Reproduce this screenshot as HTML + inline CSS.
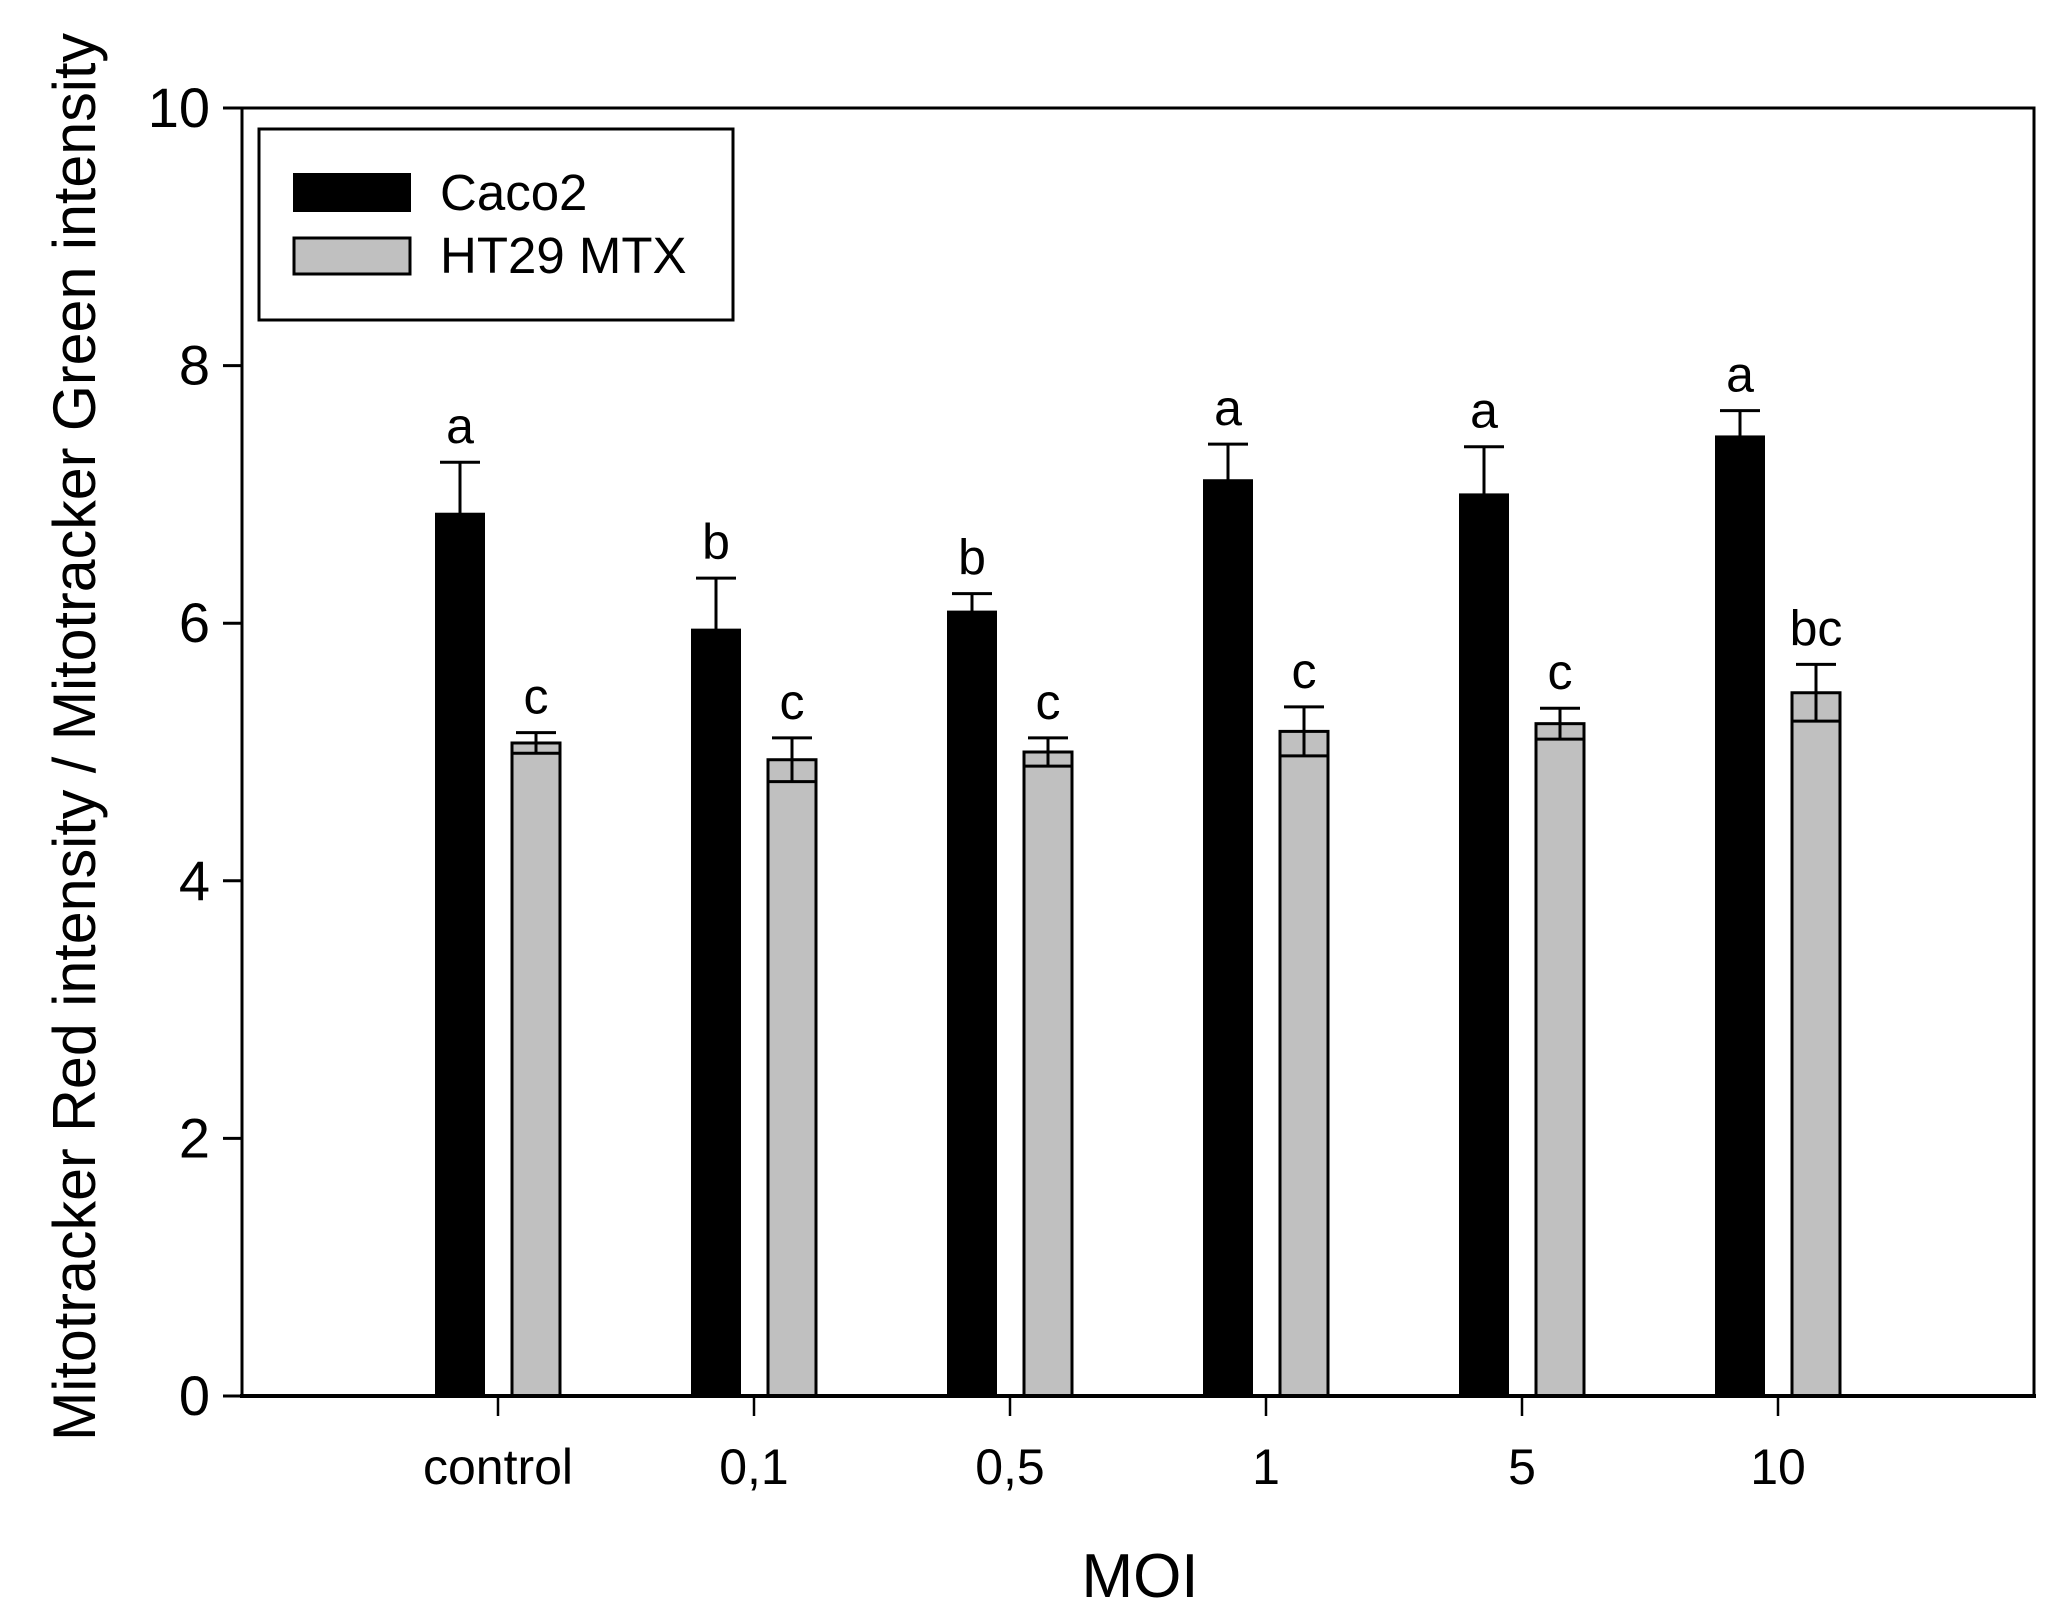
<!DOCTYPE html>
<html>
<head>
<meta charset="utf-8">
<style>
  html,body{margin:0;padding:0;background:#fff;}
  svg{display:block;}
  text{font-family:"Liberation Sans",Arial,sans-serif;fill:#000;}
</style>
</head>
<body>
<svg id="chart" width="2062" height="1618" viewBox="0 0 2062 1618" xmlns="http://www.w3.org/2000/svg"></svg>
<script>
const categories = ["control", "0,1", "0,5", "1", "5", "10"];
const caco2Values = [6.85, 5.95, 6.09, 7.11, 7.00, 7.45];
const caco2Errors = [0.40, 0.40, 0.14, 0.28, 0.37, 0.20];
const caco2Letters = ["a", "b", "b", "a", "a", "a"];
const ht29Values = [5.07, 4.94, 5.00, 5.16, 5.22, 5.46];
const ht29Errors = [0.08, 0.17, 0.11, 0.19, 0.12, 0.22];
const ht29Letters = ["c", "c", "c", "c", "c", "bc"];
const yTicks = [0, 2, 4, 6, 8, 10];

const NS = "http://www.w3.org/2000/svg";
const svg = document.getElementById("chart");
const PL = 242, PR = 2034, PT = 108, PB = 1396;
const yMax = 10;
const band = (PR - PL) / (categories.length + 1);
function yScale(v){ return PB - (v / yMax) * (PB - PT); }
function xScale(i){ return PL + (i + 1) * band; }
const barW = 48, barOff = 38;

function mk(tag, attrs, parent){
  const e = document.createElementNS(NS, tag);
  for (const k in attrs) e.setAttribute(k, attrs[k]);
  (parent || svg).appendChild(e);
  return e;
}

const frame = mk("rect", {x:PL, y:PT, width:PR-PL, height:PB-PT, fill:"none", stroke:"#000", "stroke-width":3});



yTicks.forEach(t => {
  const y = yScale(t);
  const l = mk("line", {x1:PL-19, x2:PL, y1:y, y2:y, stroke:"#000", "stroke-width":3});
  
  
  const tx = mk("text", {x:210, y:y+19, "text-anchor":"end", "font-size":56});
  tx.textContent = t;
  
  
});

categories.forEach((c, i) => {
  const cx = xScale(i);
  const tk = mk("line", {x1:cx, x2:cx, y1:PB, y2:PB+20, stroke:"#000", "stroke-width":2.5});
  
  
  const tl = mk("text", {x:cx, y:1484, "text-anchor":"middle", "font-size":50});
  tl.textContent = c;
  
  

  const bx = cx - barOff;
  const yTop = yScale(caco2Values[i]);
  const yErr = yScale(caco2Values[i] + caco2Errors[i]);
  const eb = mk("line", {x1:bx, x2:bx, y1:yTop, y2:yErr, stroke:"#000", "stroke-width":3});
  
  
  const ec = mk("line", {x1:bx-20, x2:bx+20, y1:yErr, y2:yErr, stroke:"#000", "stroke-width":3});
  
  
  const b = mk("rect", {x:bx-barW/2, y:yTop, width:barW, height:PB-yTop, fill:"#000", stroke:"#000", "stroke-width":2});
  
  
  const lt = mk("text", {x:bx, y:yErr-19, "text-anchor":"middle", "font-size":50});
  lt.textContent = caco2Letters[i];
  
  

  const gx = cx + barOff;
  const gTop = yScale(ht29Values[i]);
  const gErrT = yScale(ht29Values[i] + ht29Errors[i]);
  const gErrB = yScale(ht29Values[i] - ht29Errors[i]);
  const g = mk("rect", {x:gx-barW/2, y:gTop, width:barW, height:PB-gTop, fill:"#c0c0c0", stroke:"#000", "stroke-width":3});
  
  
  const ge = mk("line", {x1:gx, x2:gx, y1:gErrB, y2:gErrT, stroke:"#000", "stroke-width":3});
  
  
  const gc = mk("line", {x1:gx-20, x2:gx+20, y1:gErrT, y2:gErrT, stroke:"#000", "stroke-width":3});
  
  
  const gcb = mk("line", {x1:gx-barW/2, x2:gx+barW/2, y1:gErrB, y2:gErrB, stroke:"#000", "stroke-width":3});
  
  
  const gl = mk("text", {x:gx, y:gErrT-19, "text-anchor":"middle", "font-size":50});
  gl.textContent = ht29Letters[i];
  
  
});

const ax = mk("line", {x1:PL-2, x2:PR+2, y1:PB, y2:PB, stroke:"#000", "stroke-width":4});


</script>
<script>
(function(){
  const NS = "http://www.w3.org/2000/svg";
  const svg = document.getElementById("chart");
  function mk(tag, attrs){
    const e = document.createElementNS(NS, tag);
    for (const k in attrs) e.setAttribute(k, attrs[k]);
    svg.appendChild(e);
    return e;
  }
  const lg = mk("rect", {x:259, y:129, width:474, height:191, fill:"#fff", stroke:"#000", "stroke-width":3});
  
  
  const s1 = mk("rect", {x:294, y:174, width:116, height:37, fill:"#000", stroke:"#000", "stroke-width":2});
  
  
  const t1 = mk("text", {x:440, y:210, "font-size":51});
  t1.textContent = "Caco2";
  
  
  const s2 = mk("rect", {x:294, y:238, width:116, height:36, fill:"#c0c0c0", stroke:"#000", "stroke-width":3});
  
  
  const t2 = mk("text", {x:440, y:273, "font-size":51});
  t2.textContent = "HT29 MTX";
  
  

  const xt = mk("text", {x:1140, y:1597, "text-anchor":"middle", "font-size":62});
  xt.textContent = "MOI";
  
  
  const yt = mk("text", {x:0, y:0, "text-anchor":"middle", "font-size":60, transform:"translate(95,737) rotate(-90)", textLength:1408, lengthAdjust:"spacingAndGlyphs"});
  yt.textContent = "Mitotracker Red intensity / Mitotracker Green intensity";
  
  
})();
</script>
</body>
</html>
